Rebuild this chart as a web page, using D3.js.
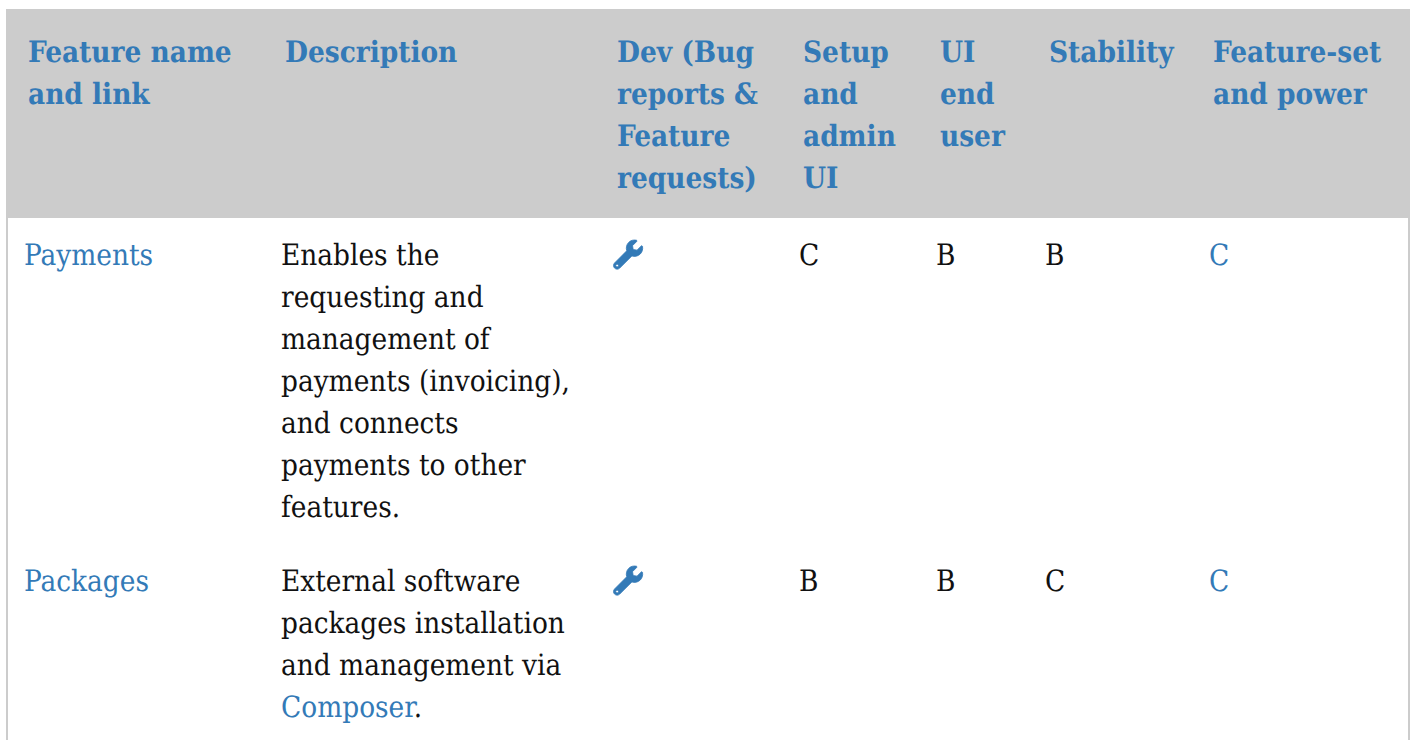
<!DOCTYPE html>
<html>
<head>
<meta charset="utf-8">
<script src="https://cdn.jsdelivr.net/npm/d3@7"></script>
<style>
  html, body { margin: 0; padding: 0; background: #fff; overflow: hidden; }
  text { font-family: "DejaVu Serif Condensed", "DejaVu Serif", serif; font-size: 29.4px; text-rendering: geometricPrecision; }
</style>
</head>
<body>
<div id="graphic"></div>
<script>
const columns = ["name", "description", "dev", "setup", "ui", "stability", "power"]
const headerLines = [
    ["Feature name", "and link"],
    ["Description"],
    ["Dev (Bug", "reports &", "Feature", "requests)"],
    ["Setup", "and", "admin", "UI"],
    ["UI", "end", "user"],
    ["Stability"],
    ["Feature-set", "and power"]
]
const featureNames = ["Payments", "Packages"]
const descriptions = [
    ["Enables the", "requesting and", "management of", "payments (invoicing),", "and connects", "payments to other", "features."],
    ["External software", "packages installation", "and management via", "Composer|."]
]
const setupRatings = ["C", "B"]
const uiRatings = ["B", "B"]
const stabilityRatings = ["B", "C"]
const powerRatings = ["C", "C"]

const wrenchPath = "M507.73 109.1c-2.24-9.03-13.54-12.09-20.12-5.51l-74.36 74.36-67.88-11.31-11.31-67.88 74.36-74.36c6.62-6.62 3.43-17.9-5.66-20.16-47.38-11.74-99.55.91-136.58 37.93-39.64 39.64-50.55 97.1-34.05 147.2L18.74 402.76c-24.99 24.99-24.99 65.51 0 90.5 24.99 24.99 65.51 24.99 90.5 0l213.21-213.21c50.12 16.71 107.47 5.68 147.37-34.22 37.07-37.07 49.7-89.32 37.91-136.73zM64 472c-13.25 0-24-10.75-24-24 0-13.26 10.75-24 24-24s24 10.74 24 24c0 13.25-10.75 24-24 24z"

const width = 1421, height = 740
const linkBlue = "#337ab7", headBg = "#cccccc", ink = "#111111"
const lineHeight = 42

const svg = d3.select("#graphic")
    .append("svg")
    .attr("width", width)
    .attr("height", height)
    .style("display", "block")

// column left edges of the body text, header text sits 4px further right
const x = d3.scaleOrdinal()
    .domain(columns)
    .range([24, 281, 613, 799, 936, 1045, 1209])

// first baseline of each row
const y = d3.scaleOrdinal()
    .domain(featureNames)
    .range([265, 591])

// side borders, then header band on top
svg.append("rect").attr("x", 6).attr("y", 9).attr("width", 2).attr("height", height - 9).attr("fill", headBg)
svg.append("rect").attr("x", 1408).attr("y", 9).attr("width", 2).attr("height", height - 9).attr("fill", headBg)
svg.append("rect").attr("x", 6).attr("y", 9).attr("width", 1404).attr("height", 209).attr("fill", headBg)

// header
const head = svg.append("g").selectAll("g")
    .data(columns)
    .join("g")
    .attr("transform", d => `translate(${x(d) + 4},62)`)
head.selectAll("text")
    .data((d, i) => headerLines[i])
    .join("text")
    .attr("y", (d, i) => i * lineHeight)
    .attr("fill", linkBlue)
    .style("font-weight", "bold")
    .text(d => d)

// rows
const row = svg.append("g").selectAll("g")
    .data(featureNames)
    .join("g")
    .attr("transform", d => `translate(0,${y(d)})`)

row.append("text")
    .attr("x", x("name"))
    .attr("fill", linkBlue)
    .text(d => d)

row.each(function (d, i) {
    const desc = d3.select(this).append("text")
    desc.selectAll("tspan")
        .data(descriptions[i])
        .join("tspan")
        .attr("x", x("description"))
        .attr("y", (l, j) => j * lineHeight)
        .attr("fill", ink)
        .each(function (l) {
            // "word|rest" marks a linked word in the line
            const parts = l.split("|")
            if (parts.length === 1) { d3.select(this).text(l); return }
            d3.select(this).append("tspan").attr("fill", linkBlue).text(parts[0])
            d3.select(this).append("tspan").text(parts[1])
        })
})

row.append("path")
    .attr("d", wrenchPath)
    .attr("fill", linkBlue)
    .attr("stroke", linkBlue)
    .attr("stroke-width", 14)
    .attr("transform", `translate(${x("dev") + 0.5},-25) scale(0.0570)`)

const ratingColumns = [
    ["setup", setupRatings, ink],
    ["ui", uiRatings, ink],
    ["stability", stabilityRatings, ink],
    ["power", powerRatings, linkBlue]
]
ratingColumns.forEach(([col, values, color]) => {
    row.append("text")
        .attr("x", x(col))
        .attr("fill", color)
        .text((d, i) => values[i])
})
</script>
</body>
</html>
